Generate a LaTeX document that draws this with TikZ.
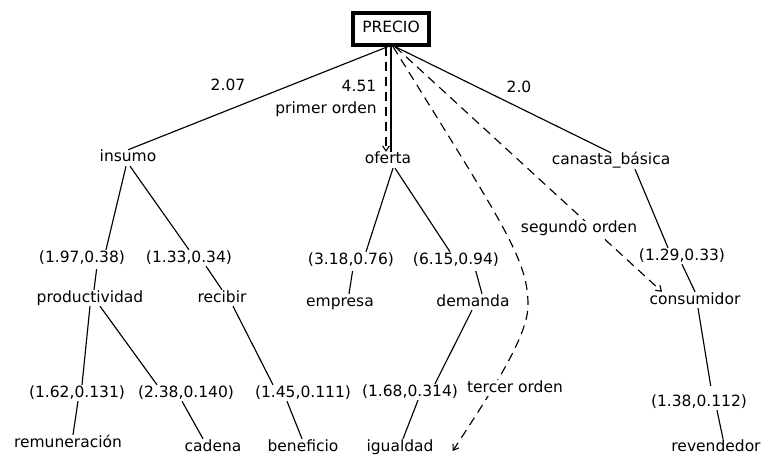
\documentclass[tikz,border=0pt]{standalone}
\usepackage{fontspec}
\setmainfont{DejaVu Sans}
\usetikzlibrary{arrows.meta}
\begin{document}
\begin{tikzpicture}[x=1pt,y=-1pt,
  lbl/.style={inner xsep=1pt, inner ysep=0.5pt, text height=11.5pt, text depth=3.5pt,
    font=\fontsize{15.5}{18}\selectfont},
  rootbox/.style={lbl, draw, line width=3.2pt, minimum width=76pt, minimum height=32pt},
  edge/.style={line width=1.15pt},
  dsh/.style={line width=1.15pt, dash pattern=on 9pt off 6pt},
  tip/.style={-{Straight Barb[length=5pt,width=7pt,line width=1.1pt]}},
  cover/.style={lbl, fill=white}]
\useasboundingbox (0,0) rectangle (768,465);
% nodes
\node[rootbox] (precio) at (391,29) {PRECIO};
\node[lbl] (insumo) at (128,158) {insumo};
\node[lbl] (oferta) at (388,160) {oferta};
\node[lbl] (canasta) at (611,161) {canasta\_básica};
\node[lbl] (n197) at (82,258) {(1.97,0.38)};
\node[lbl] (n133) at (189,258) {(1.33,0.34)};
\node[lbl] (prod) at (90,298) {productividad};
\node[lbl] (recibir) at (222,298) {recibir};
\node[lbl] (n318) at (351,260) {(3.18,0.76)};
\node[lbl] (n615) at (456,260) {(6.15,0.94)};
\node[lbl] (empresa) at (340,302) {empresa};
\node[lbl] (demanda) at (473,302) {demanda};
\node[lbl] (n129) at (682,256) {(1.29,0.33)};
\node[lbl] (consum) at (695,300) {consumidor};
\node[lbl] (n162) at (77,393) {(1.62,0.131)};
\node[lbl] (n238) at (186,393) {(2.38,0.140)};
\node[lbl] (n145) at (303,393) {(1.45,0.111)};
\node[lbl] (n168) at (410,392) {(1.68,0.314)};
\node[lbl] (n138) at (699,402) {(1.38,0.112)};
\node[lbl] (remun) at (68,443) {remuneración};
\node[lbl] (cadena) at (213,447) {cadena};
\node[lbl] (benef) at (303,447) {beneficio};
\node[lbl] (igual) at (400,447) {igualdad};
\node[lbl] (revend) at (716,447) {revendedor};
% edge labels
\node[lbl] (l207) at (228,87) {2.07};
\node[lbl] (l451) at (359,88) {4.51};
\node[lbl] (l20) at (519,89) {2.0};
\node[lbl] (lprim) at (326,110) {primer orden};
% first level
\draw[edge] ([xshift=-3pt]precio.south) -- (insumo.north);
\draw[edge] (precio.south) -- (oferta.north -| precio.south);
\draw[dsh,tip] ([xshift=-5pt]precio.south) -- ([xshift=-2pt]oferta.north);
\draw[edge] ([xshift=4pt]precio.south) -- (canasta.north);
% insumo subtree
\draw[edge] ([xshift=-2pt]insumo.south) -- ([xshift=24pt]n197.north);
\draw[edge] ([xshift=2pt]insumo.south) -- (n133.north);
\draw[edge,shorten <=3pt] ([xshift=15pt]n197.south) -- ([xshift=4pt]prod.north);
\draw[edge] ([xshift=17pt]n133.south) -- (recibir.north);
\draw[edge] (prod.south) -- ([xshift=5pt]n162.north);
\draw[edge] ([xshift=10pt]prod.south) -- ([xshift=-29pt]n238.north);
\draw[edge] ([xshift=1pt]n162.south) -- ([xshift=5pt]remun.north);
\draw[edge] ([xshift=-4pt]n238.south) -- ([xshift=-10pt]cadena.north);
\draw[edge] ([xshift=11pt]recibir.south) -- ([xshift=-30pt]n145.north);
\draw[edge] ([xshift=-16pt]n145.south) -- ([xshift=-1pt]benef.north);
% oferta subtree
\draw[edge] ([xshift=5pt]oferta.south) -- ([xshift=15pt]n318.north);
\draw[edge] ([xshift=7pt]oferta.south) -- ([xshift=-6pt]n615.north);
\draw[edge,shorten <=3pt] ([xshift=2pt]n318.south) -- ([xshift=9pt]empresa.north);
\draw[edge,shorten <=3pt] ([xshift=19pt]n615.south) -- ([xshift=9pt]demanda.north);
\draw[edge] ([xshift=-1pt]demanda.south) -- ([xshift=25pt]n168.north);
\draw[edge] ([xshift=8pt]n168.south) -- ([xshift=3pt]igual.north);
% canasta subtree
\draw[edge] ([xshift=24pt]canasta.south) -- ([xshift=-14pt]n129.north);
\draw[edge] (n129.south) -- (consum.north);
\draw[edge,shorten >=8pt] ([xshift=3pt]consum.south) -- ([xshift=13pt]n138.north);
\draw[edge] ([xshift=18pt]n138.south) -- ([xshift=7pt]revend.north);
% second and third order
\draw[dsh,tip] ([xshift=4pt]precio.south) -- ([xshift=-33pt]consum.north);
\draw[dsh,tip] ([xshift=2pt]precio.south)
  .. controls (505,227) and (528,260) .. (528,305)
  .. controls (528,335) and (496,385) .. ([xshift=18pt,yshift=-4pt]igual.east);
\node[cover] (lseg) at (579,229) {segundo orden};
\node[cover] (lter) at (515,388) {tercer orden};
\end{tikzpicture}
\end{document}
